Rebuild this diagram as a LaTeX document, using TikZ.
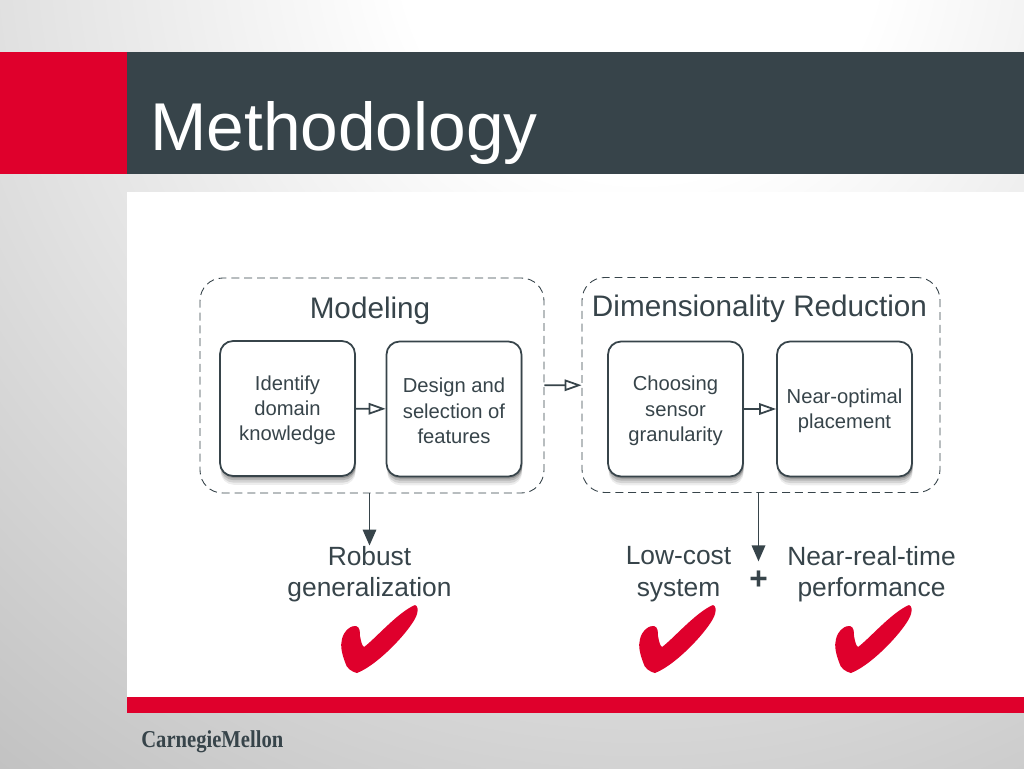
\documentclass[tikz,border=0pt]{standalone}
\usepackage{graphicx}
\usepackage{fontspec}
\setmainfont{Liberation Sans}
\newfontfamily\logofont{Liberation Serif}
\usetikzlibrary{arrows.meta,shadows}
\definecolor{cmured}{HTML}{DF002C}
\definecolor{slate}{HTML}{37444A}
\pgfdeclareradialshading{bgglow}{\pgfpoint{0bp}{0bp}}{color(0bp)=(white); color(5bp)=(white); color(50bp)=(black!64)}
\newcommand{\steprule}{\rule{0pt}{10.5pt}}
\tikzset{
  group/.style={draw=slate, line width=0.5pt, dash pattern=on 4.5pt off 2.8pt, rounded corners=0.45cm, minimum height=4.3cm},
  stepbox/.style={draw=slate, line width=1pt, fill=white, rounded corners=0.26cm,
    minimum width=2.7cm, minimum height=2.7cm, align=center, text=slate,
    font=\fontsize{11.5}{14.4}\selectfont,
    drop shadow={shadow xshift=0.4pt, shadow yshift=-5pt, opacity=0.07, fill=black},
    drop shadow={shadow xshift=0.4pt, shadow yshift=-3.8pt, opacity=0.1, fill=black},
    drop shadow={shadow xshift=0.4pt, shadow yshift=-2.4pt, opacity=0.14, fill=black},
    drop shadow={shadow xshift=0.6pt, shadow yshift=-1.2pt, opacity=0.18, fill=black}},
  heading/.style={text=slate, font=\fontsize{16.9}{20}\selectfont, inner sep=0pt},
  outcome/.style={text=slate, align=center, font=\fontsize{15}{18}\selectfont, inner sep=0pt},
  openarrow/.style={draw=slate, line width=1pt, -{Triangle[open, length=0.34cm, width=0.23cm]}},
  fullarrow/.style={draw=slate, line width=1pt, -{Triangle[length=0.32cm, width=0.27cm]}},
}
\begin{document}
\begin{tikzpicture}[x=0.02cm, y=-0.02cm]
\useasboundingbox (0,0) rectangle (1024,768);

% background and slide furniture
\begin{scope}
\clip (0,0) rectangle (1024,768);
\shade[shading=bgglow] (-560,-1260) rectangle (1840,1140);
\end{scope}
\fill[cmured] (0,52) rectangle (127,174);
\fill[slate] (127,52) rectangle (1024,174);
\fill[white] (127,192) rectangle (1024,697);
\fill[cmured] (127,697) rectangle (1024,713);
\node[anchor=base west, inner sep=0pt, text=white, font=\fontsize{38.5}{46}\selectfont] (title) at (150,150) {Methodology};
\node[anchor=base west, inner sep=0pt, text=slate, font=\logofont\bfseries\fontsize{13.8}{16}\selectfont] (logo) at (141,747) {\scalebox{0.85}[1]{CarnegieMellon}};

% dashed groups
\node[group, minimum width=6.88cm] (modeling) at (372,385.5) {};
\node[group, minimum width=7.16cm] (dimred) at (761,385) {};
\node[heading] (modelingtitle) at (370,311) {Modeling};
\node[heading] (dimredtitle) at (759.5,309) {Dimensionality Reduction};

% steps
\node[stepbox] (identify) at (287.5,408.5) {\steprule Identify\\domain\\knowledge};
\node[stepbox] (design) at (454,409) {\steprule Design and\\selection of\\features};
\node[stepbox] (choosing) at (675.5,409) {\steprule Choosing\\sensor\\granularity};
\node[stepbox] (placement) at (844.5,409) {\steprule Near-optimal\\placement};

% outcomes
\node[outcome] (robust) at (369.5,574) {Robust\\generalization};
\node[outcome] (lowcost) at (678.5,574) {Low-cost\\system};
\node[outcome] (nearreal) at (871.5,574) {Near-real-time\\performance};
\node[text=slate, inner sep=0pt, font=\bfseries\fontsize{18}{20}\selectfont] (plus) at (758.5,580) {+};

% connectors
\draw[openarrow] (identify) -- (design);
\draw[openarrow] (choosing) -- (placement);
\draw[openarrow] (modeling) -- (dimred);
\draw[fullarrow] (robust.north |- modeling.south) -- (robust.north);
\draw[fullarrow, shorten >=0.18cm] (dimred.south -| plus) -- (plus.north);

% check marks
\foreach \cx in {-298,0,196} {
  \fill[cmured, shift={(\cx,0)}] (713,605) .. controls (716,606) and (716,610) .. (715,614)
    .. controls (712,626) and (678,664) .. (655,673)
    .. controls (650,672) and (644,668) .. (643,662)
    .. controls (640,654) and (638,646) .. (640,639)
    .. controls (642,630) and (650,625) .. (654,626)
    .. controls (658,627) and (658,632) .. (658,636)
    .. controls (659,641) and (660,646) .. (662,647)
    .. controls (672,640) and (696,612) .. (713,605) -- cycle;
}
\end{tikzpicture}
\end{document}
